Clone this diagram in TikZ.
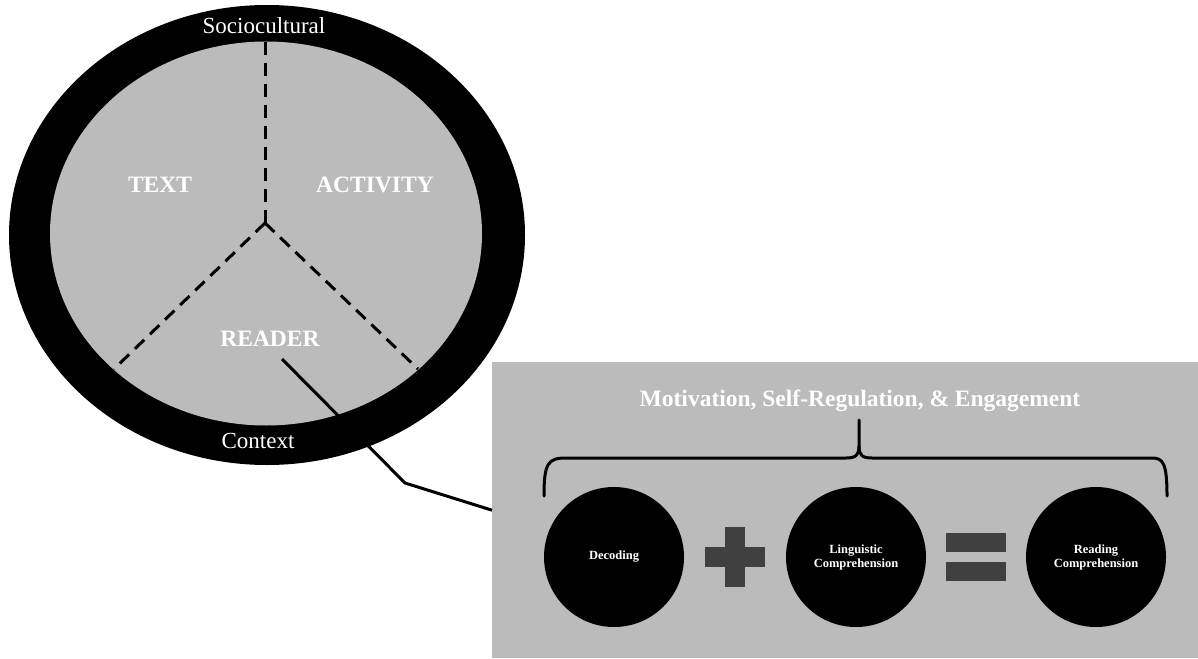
\documentclass[tikz,border=0pt]{standalone}
\usepackage{fontspec}
\setmainfont{Liberation Serif}
\usetikzlibrary{shapes.geometric}
\definecolor{panel}{HTML}{BBBBBB}
\definecolor{opgray}{HTML}{404040}
\tikzset{
  ringlabel/.style={text=white,font=\fontsize{23}{27}\selectfont,inner sep=0pt},
  zonelabel/.style={text=white,font=\fontsize{23.5}{27}\selectfont\bfseries,inner sep=0pt},
  divider/.style={line width=3pt,dash pattern=on 13pt off 8pt},
  link/.style={line width=3pt},
  factor/.style={circle,fill=black,minimum size=140pt,inner sep=0pt,text=white,
    align=center,font=\fontsize{12.5}{14}\selectfont\bfseries},
  opbar/.style={fill=opgray,inner sep=0pt},
  brace/.style={line width=3pt,line cap=round}
}
\begin{document}
\begin{tikzpicture}[x=1pt,y=-1pt]
\useasboundingbox (0,0) rectangle (1198,658);
% sociocultural context ring
\node[ellipse,fill=black,minimum width=516pt,minimum height=460pt,inner sep=0pt] (ring) at (267,235) {};
\node[ellipse,fill=panel,minimum width=432pt,minimum height=384pt,inner sep=0pt] (core) at (266,233.5) {};
% three sectors
\coordinate (hub) at (265,223);
\coordinate (topend) at (265,42);
\coordinate (leftend) at (114,369);
\coordinate (rightend) at (418,369);
\draw[divider] (hub) -- (topend);
\draw[divider] (hub) -- (leftend);
\draw[divider] (hub) -- (rightend);
\node[ringlabel] (socio) at (264,26) {Sociocultural};
\node[ringlabel] (context) at (258,441) {Context};
\node[zonelabel] (text) at (160,185) {TEXT};
\node[zonelabel] (activity) at (375,185) {ACTIVITY};
\node[zonelabel] (reader) at (270,339) {READER};
% reader panel
\node[fill=panel,minimum width=706pt,minimum height=296pt,inner sep=0pt,anchor=north west] (panel) at (492,362) {};
\coordinate (rtail) at (282,359);
\coordinate (bend) at (405,483);
\draw[link] (rtail) -- (bend) -- (panel.west);
\node[text=white,font=\fontsize{23.5}{27}\selectfont\bfseries,inner sep=0pt] (title) at (860,401) {Motivation, Self-Regulation, \& Engagement};
\coordinate (tip) at (859,420);
\coordinate (lend) at (544,496);
\coordinate (rend) at (1167,496);
\draw[brace] (lend) .. controls (544,463) and (548,458) .. (566,458) -- (846,458)
  .. controls (856,458) and (859,455) .. (859,446) -- (tip);
\draw[brace] (rend) .. controls (1167,463) and (1163,458) .. (1152,458) -- (872,458)
  .. controls (862,458) and (859,455) .. (859,446);
% simple view of reading
\node[factor] (decoding) at (614,557) {Decoding};
\node[factor] (linguistic) at (856,557) {Linguistic\\Comprehension};
\node[factor] (reading) at (1096,557) {Reading\\Comprehension};
\node[opbar,minimum width=20pt,minimum height=60pt] (plusv) at (735,557) {};
\node[opbar,minimum width=60pt,minimum height=20pt] (plush) at (735,557) {};
\node[opbar,minimum width=60pt,minimum height=19pt] (eqtop) at (976,542.5) {};
\node[opbar,minimum width=60pt,minimum height=19pt] (eqbot) at (976,571.5) {};
\end{tikzpicture}
\end{document}
